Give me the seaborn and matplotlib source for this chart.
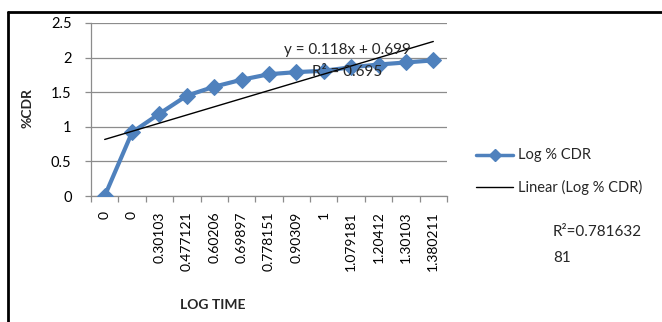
import numpy as np
import pandas as pd
import matplotlib
matplotlib.use("Agg")
import matplotlib.pyplot as plt
import seaborn as sns
from matplotlib.lines import Line2D

# Data
log_time_labels = ["0", "0", "0.30103", "0.477121", "0.60206", "0.69897", "0.778151",
                   "0.90309", "1", "1.079181", "1.20412", "1.30103", "1.380211"]
log_cdr = [0.0, 0.92, 1.19, 1.45, 1.58, 1.68, 1.76, 1.79, 1.81, 1.86, 1.90, 1.93, 1.96]
trend_slope = 0.118
trend_intercept = 0.699
trend_r2 = "0.695"
extra_r2_lines = ["R\u00b2=0.781632", "81"]

sns.set_theme(style="white")
plt.rcParams["font.family"] = ["Lato", "DejaVu Sans"]

W, H = 662, 322
fig = plt.figure(figsize=(W / 100, H / 100), dpi=100)
ax = fig.add_axes([91 / W, 1 - 196 / H, (447 - 91) / W, (196 - 23) / H])

idx = np.arange(1, len(log_cdr) + 1)
df = pd.DataFrame({"idx": idx, "val": log_cdr})

blue = "#4F81BD"
sns.lineplot(data=df, x="idx", y="val", ax=ax, color=blue, lw=3.0,
             marker="D", markersize=8, markeredgecolor=blue, legend=False, zorder=3)

# Linear trendline
tx = np.array([idx[0], idx[-1]], dtype=float)
ax.plot(tx, trend_slope * tx + trend_intercept, color="black", lw=1.0, zorder=4)

ax.set_xlim(0.5, len(log_cdr) + 0.5)
ax.set_ylim(0, 2.5)
ax.set_yticks(np.arange(0, 2.51, 0.5))
ax.set_yticklabels(["0", "0.5", "1", "1.5", "2", "2.5"])
ax.yaxis.grid(True, color="#8c8c8c", lw=0.9)
ax.set_axisbelow(True)

ax.set_xticks(idx)
ax.set_xticklabels(log_time_labels, rotation=90, va="top", ha="center")
ax.set_xticks(np.arange(0.5, len(log_cdr) + 1), minor=True)
ax.tick_params(axis="x", which="major", length=0, pad=11, labelsize=10, colors="black")
ax.tick_params(axis="x", which="minor", length=4, width=0.9, color="#8c8c8c", direction="out", bottom=True)
ax.tick_params(axis="y", which="major", length=4, width=0.9, color="#8c8c8c", direction="out",
               left=True, pad=10, labelsize=10.5, colors="black")

for s in ["top", "right"]:
    ax.spines[s].set_visible(False)
for s in ["left", "bottom"]:
    ax.spines[s].set_color("#8c8c8c")
    ax.spines[s].set_linewidth(0.9)

ax.set_xlabel("")
ax.set_ylabel("")
fig.text(27 / W, 1 - 108 / H, "%CDR", rotation=90, ha="center", va="center",
         fontsize=10, fontweight="bold")
fig.text(213 / W, 1 - 305 / H, "LOG TIME", ha="center", va="center",
         fontsize=10, fontweight="bold")

# Trendline equation
fig.text(347 / W, 1 - 50 / H, f"y = {trend_slope}x + {trend_intercept}",
         ha="center", va="center", fontsize=11, zorder=5)
fig.text(347 / W, 1 - 72 / H, f"R\u00b2 = {trend_r2}", ha="center", va="center",
         fontsize=11, zorder=5)

# Legend
fig.add_artist(Line2D([476 / W, 513 / W], [1 - 155 / H] * 2, color=blue, lw=2.5,
                      transform=fig.transFigure))
fig.add_artist(Line2D([495 / W], [1 - 155 / H], color=blue, marker="D", markersize=6,
                      transform=fig.transFigure))
fig.text(518 / W, 1 - 155 / H, "Log % CDR", ha="left", va="center", fontsize=10.5)
fig.add_artist(Line2D([476 / W, 513 / W], [1 - 187 / H] * 2, color="black", lw=1.0,
                      transform=fig.transFigure))
fig.text(518 / W, 1 - 187 / H, "Linear (Log % CDR)", ha="left", va="center", fontsize=10.5)

fig.text(553 / W, 1 - 232 / H, extra_r2_lines[0], ha="left", va="center", fontsize=11)
fig.text(553 / W, 1 - 258 / H, extra_r2_lines[1], ha="left", va="center", fontsize=11)

# Outer frame (top and left edges)
fig.add_artist(Line2D([8 / W, 1.0], [1 - 11.5 / H] * 2, color="black", lw=2.0,
                      transform=fig.transFigure))
fig.add_artist(Line2D([8 / W, 8 / W], [1 - 11.5 / H, 0.0], color="black", lw=2.0,
                      transform=fig.transFigure))

fig.savefig("out.png", dpi=100)
